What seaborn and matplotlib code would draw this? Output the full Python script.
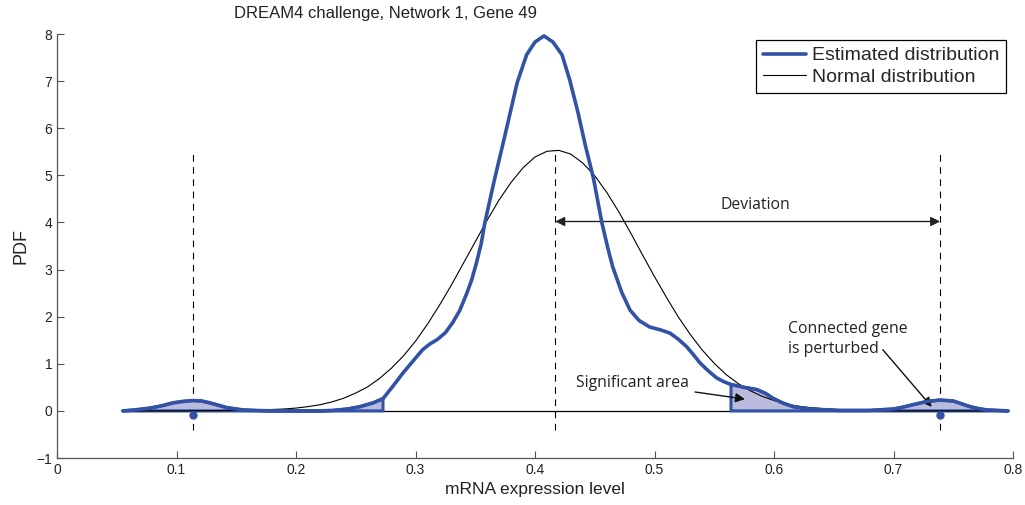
import matplotlib
matplotlib.use("Agg")
import matplotlib.pyplot as plt
import seaborn as sns
import numpy as np

###############################################################################
# Data
###############################################################################

est_x = [0.055, 0.065, 0.078, 0.088, 0.097, 0.105, 0.114, 0.121, 0.128, 0.135,
         0.142, 0.150, 0.156, 0.165, 0.180, 0.200, 0.220, 0.231, 0.243, 0.2535,
         0.2645, 0.2728, 0.281, 0.2897, 0.298, 0.306, 0.312, 0.318, 0.325, 0.331,
         0.337, 0.343, 0.347, 0.351, 0.355, 0.358, 0.366, 0.3747, 0.385, 0.393,
         0.400, 0.4075, 0.415, 0.4226, 0.429, 0.436, 0.442, 0.4488, 0.456, 0.461,
         0.465, 0.4725, 0.4795, 0.487, 0.496, 0.505, 0.513, 0.520, 0.527, 0.533,
         0.538, 0.545, 0.552, 0.558, 0.564, 0.575, 0.586, 0.593, 0.599, 0.607,
         0.616, 0.630, 0.655, 0.680, 0.700, 0.708, 0.716, 0.728, 0.739, 0.750,
         0.757, 0.764, 0.771, 0.778, 0.787, 0.796]
est_y = [0.00, 0.02, 0.06, 0.11, 0.17, 0.20, 0.22, 0.21, 0.17, 0.12,
         0.07, 0.04, 0.02, 0.01, 0.00, 0.00, 0.00, 0.01, 0.04, 0.09,
         0.17, 0.26, 0.52, 0.81, 1.06, 1.30, 1.42, 1.51, 1.66, 1.87,
         2.13, 2.50, 2.78, 3.14, 3.55, 3.99, 4.90, 5.83, 6.96, 7.56,
         7.83, 7.96, 7.83, 7.56, 7.03, 6.33, 5.65, 4.95, 3.99, 3.45,
         3.06, 2.52, 2.14, 1.92, 1.78, 1.72, 1.65, 1.52, 1.36, 1.18,
         1.02, 0.85, 0.70, 0.62, 0.56, 0.50, 0.45, 0.37, 0.27, 0.17,
         0.09, 0.04, 0.01, 0.01, 0.04, 0.08, 0.13, 0.20, 0.23, 0.21,
         0.15, 0.09, 0.05, 0.02, 0.01, 0.00]

norm_x = [0.055, 0.10, 0.15, 0.17, 0.19, 0.20, 0.21, 0.22, 0.23, 0.24,
          0.25, 0.26, 0.27, 0.28, 0.29, 0.30, 0.31, 0.32, 0.33, 0.34,
          0.35, 0.36, 0.37, 0.38, 0.39, 0.40, 0.41, 0.42, 0.43, 0.44,
          0.45, 0.46, 0.47, 0.48, 0.49, 0.50, 0.51, 0.52, 0.53, 0.54,
          0.55, 0.56, 0.57, 0.58, 0.59, 0.60, 0.61, 0.62, 0.63, 0.64,
          0.65, 0.66, 0.68, 0.70, 0.75, 0.796]
norm_y = [0.00, 0.00, 0.01, 0.02, 0.04, 0.06, 0.09, 0.13, 0.19, 0.27,
          0.38, 0.51, 0.69, 0.91, 1.17, 1.48, 1.84, 2.24, 2.67, 3.13,
          3.59, 4.05, 4.48, 4.85, 5.16, 5.39, 5.51, 5.53, 5.45, 5.26,
          4.99, 4.64, 4.23, 3.78, 3.31, 2.85, 2.41, 1.99, 1.62, 1.29,
          1.01, 0.77, 0.58, 0.43, 0.31, 0.22, 0.15, 0.10, 0.07, 0.05,
          0.03, 0.02, 0.01, 0.00, 0.00, 0.00]

low_cut = 0.2728          # end of the left significant area
high_cut = 0.564          # start of the right significant area
mean_x = 0.417            # mean of the normal distribution
peaks_x = [0.1135, 0.739] # perturbed genes

blue = "#3252a6"
fill_col = "#babadd"

###############################################################################
# Plot
###############################################################################

sns.set_style("ticks")
plt.rcParams["font.family"] = ["Liberation Sans", "DejaVu Sans"]

fig = plt.figure(figsize=(10.25, 5.05), dpi=100)
ax = fig.add_axes([57 / 1025, 1 - 458 / 505, 956 / 1025, 424 / 505])

ex = np.array(est_x)
ey = np.array(est_y)

# baseline
ax.plot([est_x[0], est_x[-1]], [0, 0], color="black", lw=0.9, zorder=1)

# significant areas
for mask in (ex <= low_cut, ex >= high_cut):
    xs = np.concatenate([[ex[mask][0]], ex[mask], [ex[mask][-1]]])
    ys = np.concatenate([[0], ey[mask], [0]])
    ax.fill(xs, ys, facecolor=fill_col, edgecolor=blue, lw=2.2, zorder=2)

sns.lineplot(x=norm_x, y=norm_y, ax=ax, color="black", lw=0.8, sort=False,
             estimator=None, label="Normal distribution", zorder=3)
sns.lineplot(x=est_x, y=est_y, ax=ax, color=blue, lw=2.6, sort=False,
             estimator=None, label="Estimated distribution", zorder=4)

# dashed markers
ax.vlines([peaks_x[0], mean_x, peaks_x[1]], -0.4, 5.55, colors="black",
          linestyles=(0, (6, 5)), lw=0.8, zorder=1)
ax.plot(peaks_x, [-0.08, -0.08], "o", color=blue, ms=5, zorder=5)

# annotations
ann_font = dict(family=["Open Sans", "DejaVu Sans"], fontsize=11.3, color="#222222")
ax.annotate("", xy=(peaks_x[1], 4.02), xytext=(mean_x, 4.02),
            arrowprops=dict(arrowstyle="<|-|>", color="#222222", lw=1.0,
                            mutation_scale=14, shrinkA=0, shrinkB=0))
ax.text(0.584, 4.36, "Deviation", ha="center", va="center", **ann_font)

ax.annotate("Significant area", xy=(0.5757, 0.25), xytext=(0.5289, 0.59),
            ha="right", va="center",
            arrowprops=dict(arrowstyle="-|>", color="#111111", lw=1.0,
                            mutation_scale=14, shrinkA=2, shrinkB=0),
            **ann_font)
ax.text(0.6117, 1.53, "Connected gene\nis perturbed", ha="left", va="center",
        linespacing=1.3, **ann_font)
ax.annotate("", xy=(0.732, 0.085), xytext=(0.691, 1.30),
            arrowprops=dict(arrowstyle="-|>", color="#111111", lw=1.0,
                            mutation_scale=14, shrinkA=0, shrinkB=0))

# axes
ax.set_xlim(0, 0.8)
ax.set_ylim(-1, 8)
ax.set_xticks(np.arange(0, 0.81, 0.1))
ax.set_xticklabels(["0", "0.1", "0.2", "0.3", "0.4", "0.5", "0.6", "0.7", "0.8"])
ax.set_yticks(range(-1, 9))
sns.despine(ax=ax)
for s in ("left", "bottom"):
    ax.spines[s].set_color("#555555")
    ax.spines[s].set_linewidth(0.9)
ax.tick_params(direction="in", length=5, width=0.8, color="#555555",
               labelcolor="#222222", labelsize=10)

ax.set_xlabel("mRNA expression level", fontsize=12.5, color="#222222", labelpad=4)
ax.set_ylabel("PDF", fontsize=13, color="#222222", labelpad=5)
ax.text(0.344, 1.048, "DREAM4 challenge, Network 1, Gene 49", transform=ax.transAxes,
        ha="center", va="center", fontsize=12, color="#222222")

# legend, estimated distribution first
handles, labels = ax.get_legend_handles_labels()
leg = ax.legend(handles[::-1], labels[::-1], loc="upper right",
                bbox_to_anchor=(0.9927, 0.986), borderaxespad=0, fancybox=False,
                edgecolor="black", fontsize=14, handlelength=2.2,
                borderpad=0.35, labelspacing=0.2, handletextpad=0.3, framealpha=1)
leg.get_frame().set_linewidth(0.9)

fig.savefig("out.png", dpi=100)
